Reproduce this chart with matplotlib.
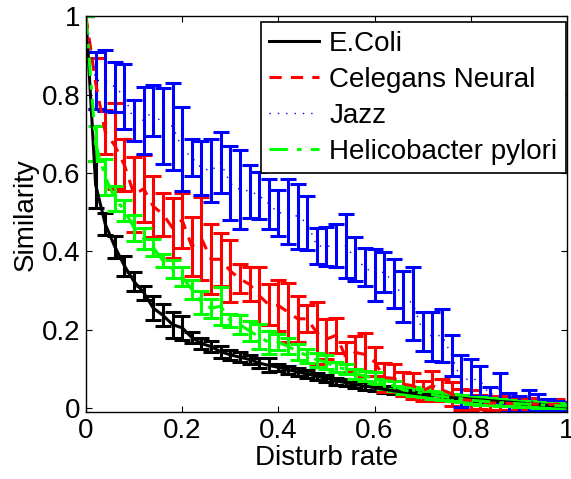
import matplotlib
matplotlib.use('Agg')
import matplotlib.pyplot as plt
from matplotlib.lines import Line2D

plt.rcParams['font.family'] = ['Liberation Sans', 'DejaVu Sans']

# disturb rate steps
rates = [0.00, 0.02, 0.04, 0.06, 0.08, 0.10, 0.12, 0.14, 0.16, 0.18,
         0.20, 0.22, 0.24, 0.26, 0.28, 0.30, 0.32, 0.34, 0.36, 0.38,
         0.40, 0.42, 0.44, 0.46, 0.48, 0.50, 0.52, 0.54, 0.56, 0.58,
         0.60, 0.62, 0.64, 0.66, 0.68, 0.70, 0.72, 0.74, 0.76, 0.78,
         0.80, 0.82, 0.84, 0.86, 0.88, 0.90, 0.92, 0.94, 0.96, 0.98, 1.00]

ecoli = [1.0, 0.57, 0.47, 0.412, 0.363, 0.323, 0.295, 0.255, 0.237, 0.213,
         0.205, 0.18, 0.165, 0.157, 0.144, 0.136, 0.13, 0.124, 0.115, 0.109,
         0.104, 0.098, 0.092, 0.087, 0.081, 0.076, 0.069, 0.065, 0.06, 0.056,
         0.052, 0.048, 0.044, 0.041, 0.038, 0.035, 0.032, 0.03, 0.027, 0.025,
         0.023, 0.021, 0.019, 0.017, 0.015, 0.013, 0.011, 0.009, 0.007, 0.005, 0.003]
ecoli_err = [0.0, 0.06, 0.028, 0.028, 0.026, 0.024, 0.018, 0.03, 0.028, 0.033,
             0.03, 0.013, 0.015, 0.015, 0.015, 0.013, 0.013, 0.012, 0.012, 0.018,
             0.009, 0.01, 0.01, 0.009, 0.009, 0.009, 0.009, 0.009, 0.009, 0.01,
             0.009, 0.009, 0.009, 0.008, 0.008, 0.008, 0.008, 0.007, 0.007, 0.007,
             0.007, 0.006, 0.006, 0.006, 0.006, 0.005, 0.005, 0.005, 0.004, 0.004, 0.003]

celegans = [1.0, 0.83, 0.705, 0.67, 0.62, 0.545, 0.56, 0.515, 0.495, 0.46,
            0.48, 0.413, 0.433, 0.38, 0.38, 0.35, 0.33, 0.316, 0.287, 0.264,
            0.262, 0.245, 0.228, 0.228, 0.192, 0.176, 0.186, 0.13, 0.142, 0.137,
            0.118, 0.078, 0.076, 0.061, 0.057, 0.044, 0.057, 0.047, 0.036, 0.022,
            0.02, 0.016, 0.013, 0.013, 0.012, 0.011, 0.01, 0.01, 0.009, 0.01, 0.005]
celegans_err = [0.0, 0.065, 0.055, 0.11, 0.066, 0.095, 0.085, 0.077, 0.055, 0.077,
                0.07, 0.075, 0.107, 0.089, 0.068, 0.08, 0.037, 0.043, 0.072, 0.052,
                0.065, 0.075, 0.058, 0.034, 0.08, 0.051, 0.045, 0.039, 0.042, 0.055,
                0.037, 0.038, 0.036, 0.03, 0.033, 0.025, 0.038, 0.028, 0.03, 0.026,
                0.025, 0.018, 0.018, 0.017, 0.016, 0.015, 0.015, 0.014, 0.012, 0.012, 0.01]

jazz = [1.0, 0.837, 0.836, 0.82, 0.796, 0.734, 0.735, 0.76, 0.72, 0.72,
        0.662, 0.64, 0.613, 0.606, 0.627, 0.574, 0.558, 0.554, 0.543, 0.522,
        0.498, 0.501, 0.489, 0.473, 0.414, 0.413, 0.415, 0.414, 0.381, 0.36,
        0.34, 0.348, 0.318, 0.285, 0.266, 0.196, 0.183, 0.186, 0.135, 0.07,
        0.076, 0.069, 0.033, 0.05, 0.015, 0.01, 0.019, 0.015, 0.008, 0.006, 0.004]
jazz_err = [0.0, 0.072, 0.078, 0.064, 0.083, 0.052, 0.086, 0.065, 0.097, 0.111,
            0.108, 0.048, 0.07, 0.08, 0.078, 0.095, 0.1, 0.068, 0.059, 0.064,
            0.058, 0.083, 0.083, 0.069, 0.047, 0.05, 0.054, 0.081, 0.057, 0.049,
            0.066, 0.051, 0.062, 0.066, 0.093, 0.05, 0.063, 0.068, 0.052, 0.066,
            0.05, 0.038, 0.02, 0.04, 0.024, 0.02, 0.028, 0.02, 0.014, 0.012, 0.01]

helico = [1.0, 0.675, 0.59, 0.535, 0.505, 0.46, 0.433, 0.41, 0.376, 0.355,
          0.335, 0.303, 0.27, 0.255, 0.26, 0.223, 0.213, 0.197, 0.182, 0.168,
          0.168, 0.158, 0.144, 0.134, 0.123, 0.117, 0.104, 0.1, 0.087, 0.082,
          0.076, 0.061, 0.057, 0.046, 0.042, 0.038, 0.034, 0.03, 0.026, 0.024,
          0.02, 0.018, 0.016, 0.014, 0.013, 0.011, 0.01, 0.008, 0.007, 0.006, 0.005]
helico_err = [0.0, 0.045, 0.047, 0.032, 0.027, 0.034, 0.028, 0.022, 0.017, 0.024,
              0.024, 0.025, 0.029, 0.024, 0.049, 0.017, 0.024, 0.025, 0.032, 0.03,
              0.02, 0.02, 0.02, 0.018, 0.017, 0.018, 0.013, 0.013, 0.013, 0.013,
              0.015, 0.013, 0.013, 0.011, 0.011, 0.011, 0.01, 0.01, 0.009, 0.009,
              0.009, 0.009, 0.009, 0.009, 0.008, 0.008, 0.008, 0.007, 0.007, 0.006, 0.006]

labels = ['E.Coli', 'Celegans Neural', 'Jazz', 'Helicobacter pylori']

fig = plt.figure(figsize=(5.71, 4.79), dpi=100)
ax = fig.add_axes([0.1506, 0.1399, 0.8424, 0.8257])

cap = 6
elw = 2.2
styles = [
    dict(color='k', linestyle='-', linewidth=2.2),
    dict(color='r', linestyle=(0, (4, 3)), linewidth=2.2),
    dict(color='b', linestyle=(0, (1, 5)), linewidth=1.0),
    dict(color=(0, 1, 0), linestyle=(0, (6, 3, 1.5, 3)), linewidth=2.2),
]
series = [(ecoli, ecoli_err), (celegans, celegans_err), (jazz, jazz_err), (helico, helico_err)]

handles = []
for (vals, errs), st, lab in zip(series, styles, labels):
    ax.errorbar(rates, vals, yerr=errs, elinewidth=elw, capsize=cap, capthick=elw, **st)
    handles.append(Line2D([], [], **st))

ax.set_xlim(0, 1)
ax.set_ylim(-0.01, 1)
ax.set_xticks([0, 0.2, 0.4, 0.6, 0.8, 1])
ax.set_xticklabels(['0', '0.2', '0.4', '0.6', '0.8', '1'])
ax.set_yticks([0, 0.2, 0.4, 0.6, 0.8, 1])
ax.set_yticklabels(['0', '0.2', '0.4', '0.6', '0.8', '1'])
ax.tick_params(direction='in', top=True, right=True, length=4, width=0.8,
               labelsize=20, pad=4)
for s in ax.spines.values():
    s.set_linewidth(1.0)

ax.set_xlabel('Disturb rate', fontsize=20, labelpad=1)
ax.set_ylabel('Similarity', fontsize=20, labelpad=2)

leg = ax.legend(handles, labels, loc='upper right', bbox_to_anchor=(0.997, 0.985),
                fontsize=20, frameon=True, fancybox=False, framealpha=1, edgecolor='k',
                handlelength=1.8, handletextpad=0.35, labelspacing=0.36,
                borderpad=0.3, borderaxespad=0.0)
leg.get_frame().set_linewidth(1.2)

plt.savefig('out.png', dpi=100)
